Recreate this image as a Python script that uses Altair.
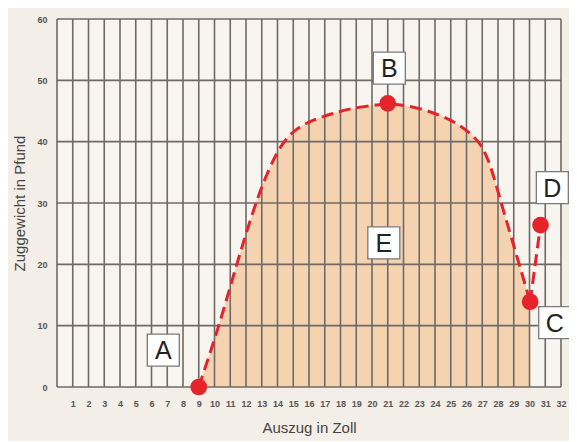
import altair as alt
import pandas as pd

# Curve (Auszug in Zoll -> Zuggewicht in Pfund)
curve_x = [9.0, 10.3, 11.4, 12.6, 13.42, 14.25, 15.19, 16.23, 17.48, 18.94, 20.4, 21.0,
           21.85, 23.1, 24.35, 25.4, 26.23, 26.9, 27.5, 28.2, 29.35, 30.04]
curve_y = [0.0, 10.0, 20.0, 30.0, 35.4, 39.7, 42.2, 43.5, 44.6, 45.6, 46.0, 46.25,
           46.0, 45.4, 44.3, 43.0, 41.4, 39.7, 36.5, 30.0, 20.0, 13.9]

# Marked points A, B, C, D
pt_name = ["A", "B", "C", "D"]
pt_x = [9.0, 21.0, 30.04, 30.7]
pt_y = [0.0, 46.25, 13.9, 26.4]

# Final segment C -> D
seg_x = [30.04, 30.7]
seg_y = [13.9, 26.4]

# Letter labels
lab_text = ["A", "B", "C", "D", "E"]
lab_x = [6.75, 21.1, 31.6, 31.45, 20.75]
lab_y = [6.0, 52.0, 10.5, 32.5, 23.5]

# Axis ticks / grid
x_ticks = list(range(1, 33))
x_grid = list(range(0, 33))
y_ticks = [0, 10, 20, 30, 40, 50, 60]

RED = "#e5232a"
GRID = "#6f6a65"
FONT = "Liberation Sans"
W, H = 504, 368

curve = pd.DataFrame({"x": curve_x, "y": curve_y})
points = pd.DataFrame({"name": pt_name, "x": pt_x, "y": pt_y})
seg = pd.DataFrame({"x": seg_x, "y": seg_y})
labels = pd.DataFrame({"t": lab_text, "x": lab_x, "y": lab_y})
vgrid = pd.DataFrame({"x": x_grid})
hgrid = pd.DataFrame({"y": y_ticks})

xs = alt.Scale(domain=[0, 32], nice=False, zero=False)
ys = alt.Scale(domain=[0, 60], nice=False)

x_axis = alt.Axis(
    values=x_ticks, title="Auszug in Zoll", grid=False, ticks=False, domain=False,
    labelOverlap=False, labelFlush=False,
    labelFontWeight="bold", labelFontSize=9, labelColor="#555555", labelPadding=12,
    labelFont=FONT, titleFont=FONT, titleFontSize=15, titleFontWeight="normal",
    titleColor="#444444", titlePadding=12,
)
y_axis = alt.Axis(
    values=y_ticks, title="Zuggewicht in Pfund", grid=False, ticks=False, domain=False,
    labelOverlap=False, labelFlush=False,
    labelFontWeight="bold", labelFontSize=9, labelColor="#555555", labelPadding=10,
    labelFont=FONT, titleFont=FONT, titleFontSize=15, titleFontWeight="normal",
    titleColor="#444444", titlePadding=9,
)

X = alt.X("x:Q", scale=xs, axis=x_axis)
Y = alt.Y("y:Q", scale=ys, axis=y_axis)

area = alt.Chart(curve).mark_area(interpolate="basis", color="#f5d3b1", opacity=1).encode(
    x=X, y=Y,
)

vrules = alt.Chart(vgrid).mark_rule(color=GRID, strokeWidth=1.6).encode(
    x=X,
    y=alt.value(0),
    y2=alt.value(H),
)
hrules = alt.Chart(hgrid).mark_rule(color=GRID, strokeWidth=1.6).encode(
    y=Y,
    x=alt.value(0),
    x2=alt.value(W),
)

line = alt.Chart(curve).mark_line(
    interpolate="basis", color=RED, strokeWidth=3, strokeDash=[12, 6]
).encode(x=X, y=Y)

segline = alt.Chart(seg).mark_line(color=RED, strokeWidth=3, strokeDash=[12, 6]).encode(
    x=X, y=Y
)

dots = alt.Chart(points).mark_circle(color=RED, size=280, opacity=1).encode(x=X, y=Y)

boxes = alt.Chart(labels).mark_square(
    size=1024, filled=True, fill="white", stroke="#7a7a7a", strokeWidth=1.3, opacity=1
).encode(x=X, y=Y)

texts = alt.Chart(labels).mark_text(
    fontSize=25, font=FONT, color="#222222", align="center", baseline="middle", dy=1
).encode(x=X, y=Y, text="t:N")

chart = alt.layer(area, vrules, hrules, line, segline, dots, boxes, texts).properties(
    width=W,
    height=H,
    background="#f3eee7",
    padding={"left": 49, "top": 11, "right": 8, "bottom": 54},
    autosize=alt.AutoSizeParams(type="none"),
).configure_view(fill="#f8f4f0", stroke=None).configure_axis(labelOverlap=False)

chart.save("out.html", embed_options={"renderer": "svg", "actions": False})
